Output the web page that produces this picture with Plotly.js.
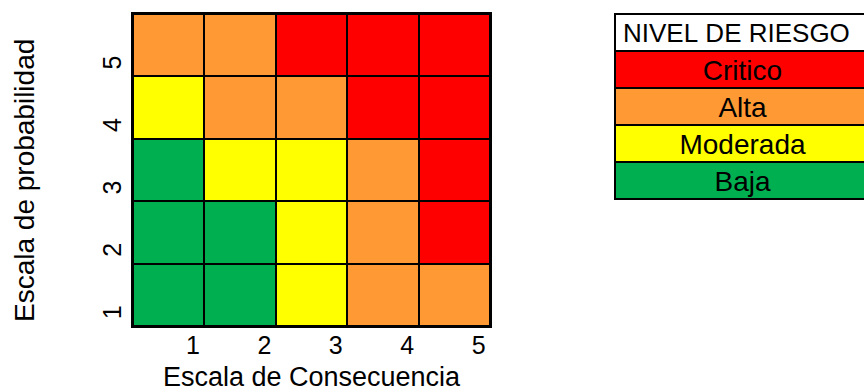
<!DOCTYPE html>
<html>
<head>
<meta charset="utf-8">
<script src="https://cdn.plot.ly/plotly-3.0.1.min.js"></script>
<style>html,body{margin:0;padding:0;background:#fff;overflow:hidden;width:864px;height:392px}#chart{width:870px;height:392px}</style>
</head>
<body>
<div id="chart"></div>
<script>
// Data
const consecuencia = [1, 2, 3, 4, 5];
const probabilidad = [1, 2, 3, 4, 5];
// risk level per cell: 1=Baja, 2=Moderada, 3=Alta, 4=Critico ; rows = probabilidad 1..5
const riesgo = [
  [1, 1, 2, 3, 3],
  [1, 1, 2, 3, 4],
  [1, 2, 2, 3, 4],
  [2, 3, 3, 4, 4],
  [3, 3, 4, 4, 4]
];
const nivelTitulo = "NIVEL DE RIESGO";
const niveles = ["Critico", "Alta", "Moderada", "Baja"];
const nivelColores = ["#FF0000", "#FF9933", "#FFFF00", "#00B050"];
const xTitle = "Escala de Consecuencia";
const yTitle = "Escala de probabilidad";

const colorscale = [
  [0, "#00B050"], [0.25, "#00B050"],
  [0.25, "#FFFF00"], [0.5, "#FFFF00"],
  [0.5, "#FF9933"], [0.75, "#FF9933"],
  [0.75, "#FF0000"], [1, "#FF0000"]
];

const W = 870, H = 392;

const heat = {
  type: "heatmap",
  x: consecuencia, y: probabilidad, z: riesgo,
  zmin: 0.5, zmax: 4.5,
  colorscale: colorscale, showscale: false,
  xgap: 2, ygap: 2, hoverinfo: "skip"
};

const FONT = "Liberation Sans, Arial, sans-serif";
const table = {
  type: "table",
  domain: {x: [615/W, 1], y: [(H-203)/H, (H-14)/H]},
  columnwidth: [1],
  header: {
    values: [nivelTitulo.replace(/ /g, "\u00a0")],
    align: "left",
    height: 37,
    fill: {color: "#FFFFFF"},
    line: {color: "#000000", width: 2},
    font: {family: FONT, size: 26, color: "#000"}
  },
  cells: {
    values: [niveles],
    align: "center",
    height: 37,
    fill: {color: [nivelColores]},
    line: {color: "#000000", width: 2},
    font: {family: FONT, size: 28, color: "#000"}
  }
};

const layout = {
  width: W, height: H,
  margin: {l: 0, r: 0, t: 0, b: 0},
  paper_bgcolor: "#FFFFFF",
  plot_bgcolor: "#000000",
  font: {family: FONT, color: "#000"},
  showlegend: false,
  xaxis: {
    domain: [133/W, 490/W],
    range: [0.5, 5.5], fixedrange: true,
    tickvals: consecuencia.map(v => v + 0.34), ticktext: consecuencia.map(String),
    ticks: "", showgrid: false, zeroline: false,
    showline: true, mirror: true, linecolor: "#000", linewidth: 2,
    tickfont: {size: 25},
    ticklabelstandoff: -4,
    title: {text: xTitle, font: {size: 27}, standoff: 12}
  },
  yaxis: {
    domain: [(H-326)/H, (H-14)/H],
    range: [0.5, 5.5], fixedrange: true,
    tickvals: probabilidad.map(v => v - 0.34), ticktext: probabilidad.map(String),
    tickangle: -90,
    ticks: "", showgrid: false, zeroline: false,
    showline: true, mirror: true, linecolor: "#000", linewidth: 2,
    tickfont: {size: 25}
  },
  annotations: [{
    text: yTitle, textangle: -90,
    xref: "paper", yref: "paper",
    x: 24/W, y: (H-181)/H, xanchor: "center", yanchor: "middle",
    showarrow: false, font: {family: FONT, size: 28, color: "#000"}
  }]
};

Plotly.newPlot("chart", [heat, table], layout, {staticPlot: true, displayModeBar: false});
</script>
</body>
</html>
